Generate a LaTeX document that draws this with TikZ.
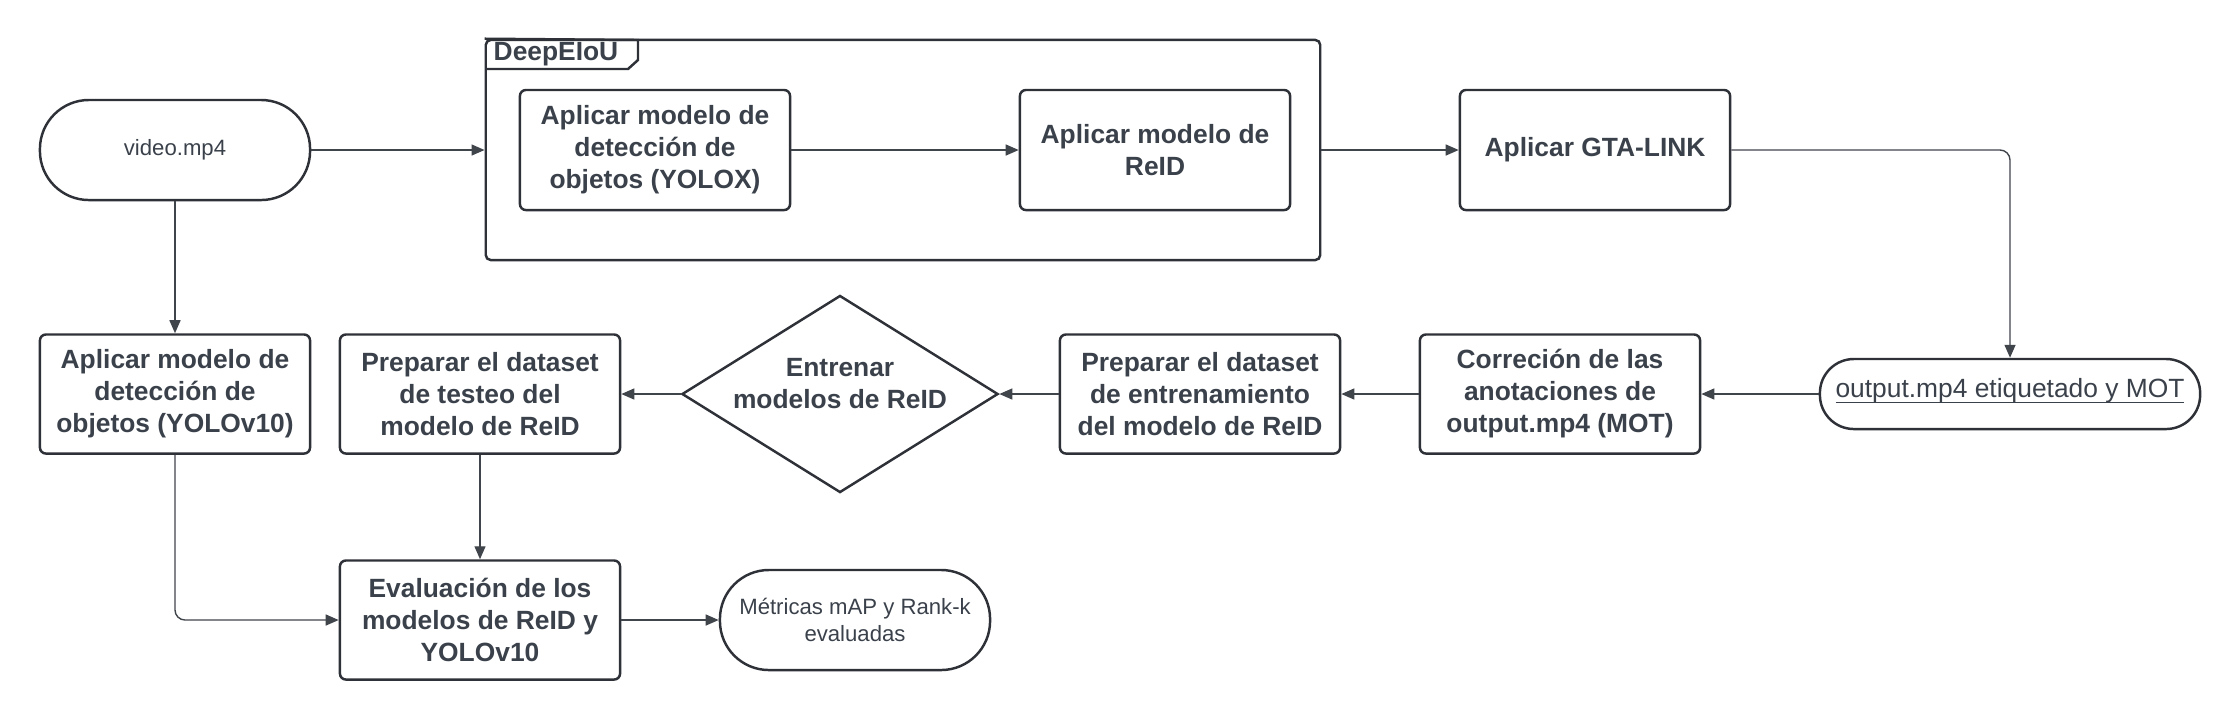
\documentclass[tikz,border=0pt]{standalone}
\usepackage{fontspec}
\setmainfont{Liberation Sans}
\usetikzlibrary{shapes.geometric,arrows.meta}
\definecolor{borde}{HTML}{2E3138}
\definecolor{texto}{HTML}{3A414A}
\definecolor{linea}{HTML}{40444B}
\begin{document}
\begin{tikzpicture}[
			x=0.01cm, y=-0.01cm,
			proceso/.style={rectangle, draw=borde, line width=0.7pt, rounded corners=0.6mm, minimum width=2.8cm, minimum height=1.19cm, inner sep=0pt, align=center, text=texto, font=\fontsize{7.5}{9.1}\selectfont\bfseries},
			terminal/.style={rectangle, draw=borde, line width=0.7pt, rounded corners=4.9mm, minimum width=2.7cm, minimum height=1cm, inner sep=0pt, align=center, text=texto, font=\fontsize{6.3}{7.7}\selectfont},
			decision/.style={diamond, draw=borde, line width=0.7pt, minimum width=3.16cm, minimum height=1.97cm, aspect=1.6, inner sep=-1.5pt, align=center, text=texto, font=\fontsize{7.5}{9.1}\selectfont\bfseries},
			flecha/.style={draw=linea, line width=0.4pt, -{Triangle[length=1.3mm,width=1.1mm]}}
		]
		\useasboundingbox (0,0) rectangle (2240,720);
		\node[terminal] (video) at (175,150) {video.mp4};
		\node[rectangle, draw=borde, line width=0.7pt, rounded corners=0.5mm, minimum width=8.34cm, minimum height=2.2cm] (deepeiou) at (903,150) {};
		\draw[borde, line width=0.7pt] (deepeiou.north west) -- (638,40) -- (638,60) -- (628,69) -- (486,69);
		\node[anchor=west, text=texto, font=\fontsize{7.5}{9}\selectfont\bfseries, inner sep=0pt] (tab) at (493,54) {DeepEIoU};
		\node[proceso, minimum width=2.7cm, minimum height=1.2cm] (yolox) at (655,150) {Aplicar modelo de\\detección de\\objetos (YOLOX)};
		\node[proceso, minimum width=2.7cm, minimum height=1.2cm] (reid) at (1155,150) {Aplicar modelo de\\ReID};
		\node[proceso, minimum width=2.7cm, minimum height=1.2cm] (gta) at (1595,150) {Aplicar GTA-LINK};
		\node[terminal, minimum width=3.8cm, minimum height=0.7cm, rounded corners=3.4mm, font=\fontsize{7.5}{9}\selectfont] (salida) at (2010,394) {\underline{\smash{output.mp4 etiquetado y MOT}}\vphantom{py}};
		\node[proceso] (correccion) at (1560,394) {Correción de las\\anotaciones de\\output.mp4 (MOT)};
		\node[proceso] (entrenamiento) at (1200,394) {Preparar el dataset\\de entrenamiento\\del modelo de ReID};
		\node[decision] (entrenar) at (840,394) {Entrenar\\modelos de ReID\\[-3pt]};
		\node[proceso] (testeo) at (480,394) {Preparar el dataset\\de testeo del\\modelo de ReID};
		\node[proceso, minimum width=2.7cm] (yolov10) at (175,394) {Aplicar modelo de\\detección de\\objetos (YOLOv10)};
		\node[proceso] (evaluacion) at (480,620) {Evaluación de los\\modelos de ReID y\\YOLOv10};
		\node[terminal] (metricas) at (855,620) {Métricas mAP y Rank-k\\evaluadas};
		\draw[flecha] (video) -- (deepeiou);
		\draw[flecha] (yolox) -- (reid);
		\draw[flecha] (deepeiou) -- (gta);
		\draw[flecha, rounded corners=1mm] (gta.east) -| (salida.north);
		\draw[flecha] (salida) -- (correccion);
		\draw[flecha] (correccion) -- (entrenamiento);
		\draw[flecha] (entrenamiento) -- (entrenar);
		\draw[flecha] (entrenar) -- (testeo);
		\draw[flecha] (video) -- (yolov10);
		\draw[flecha] (testeo) -- (evaluacion);
		\draw[flecha, rounded corners=1mm] (yolov10.south) |- (evaluacion.west);
		\draw[flecha] (evaluacion) -- (metricas);
	\end{tikzpicture}
\end{document}
